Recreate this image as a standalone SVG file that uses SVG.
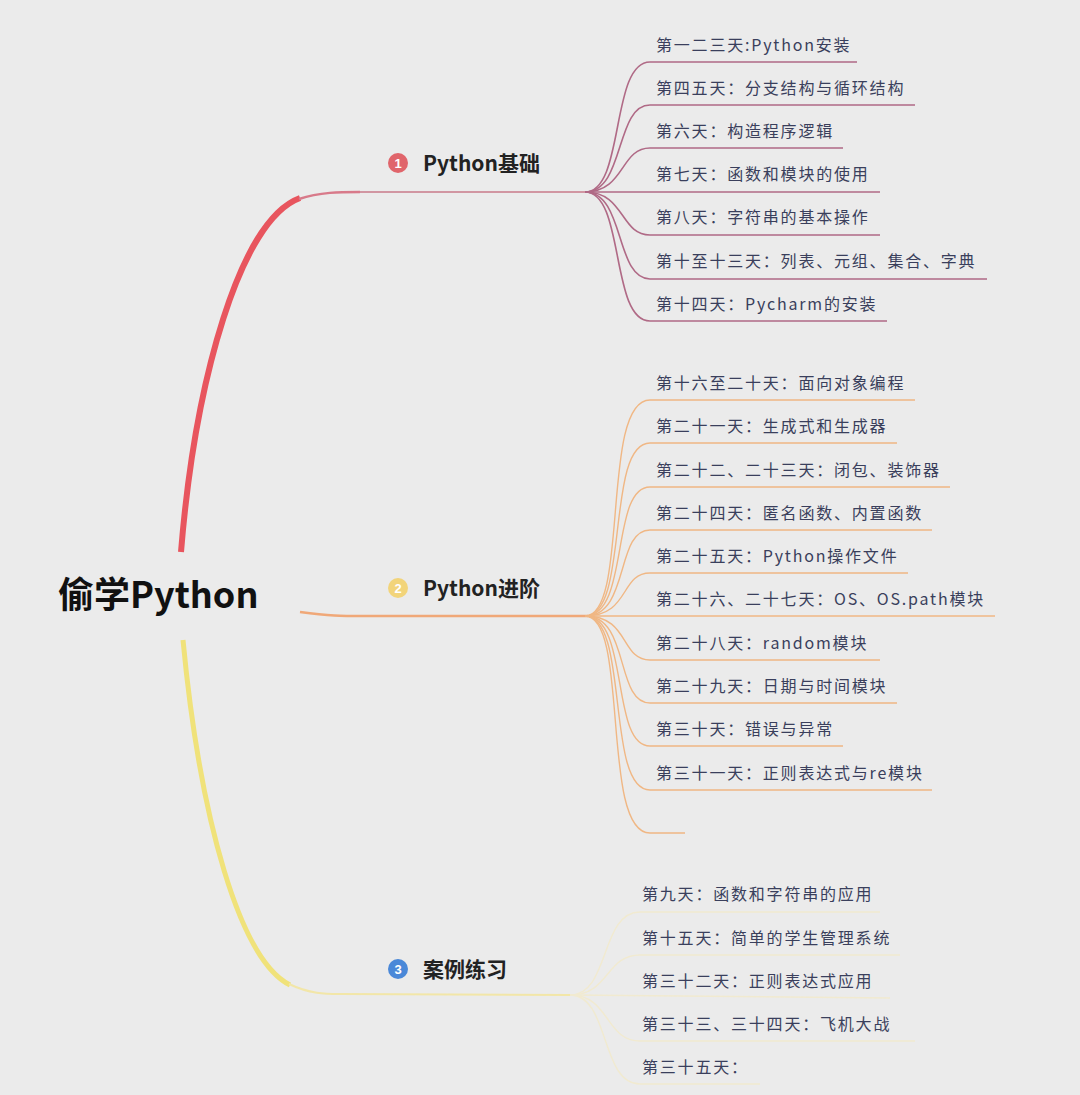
<svg xmlns="http://www.w3.org/2000/svg" width="1080" height="1095" viewBox="0 0 1080 1095">
<style>
.c{font-family:"Noto Sans CJK SC","Liberation Sans",sans-serif;font-size:16px;letter-spacing:1.8px;fill:#3a3f5c}
.b{font-family:"Noto Sans CJK SC","Liberation Sans",sans-serif;font-size:21px;font-weight:bold;fill:#222}
.n{font-family:"Liberation Sans",sans-serif;font-size:13px;font-weight:bold;fill:#fff;text-anchor:middle}
.r{fill:none;stroke:#b06a86;stroke-width:1.6}
.o{fill:none;stroke:#f0b784;stroke-width:1.4}
.y{fill:none;stroke:#f1ead0;stroke-width:1.4}
</style>
<rect width="1080" height="1095" fill="#ebebeb"/>
<g id="connectors">
<path d="M181,552 C195,380 240,220 300,198" fill="none" stroke="#e8555e" stroke-width="6"/>
<path d="M299,199 C320,192 340,192 360,192" fill="none" stroke="#d87a8a" stroke-width="2.5"/>
<path d="M360,192 L588,192" fill="none" stroke="#c87a8a" stroke-width="1.6"/>
<path d="M300,612 C330,616 340,616 365,616 L588,616" fill="none" stroke="#f0a878" stroke-width="2.5"/>
<path d="M183,640 C200,820 240,960 290,985" fill="none" stroke="#f0e27a" stroke-width="5"/>
<path d="M289,984 C310,994 325,994 340,994 L570,995" fill="none" stroke="#f2e6a8" stroke-width="2"/>
<path class="r" d="M585,192 C625,192 610,62 650,62 L857,62"/>
<path class="r" d="M585,192 C625,192 615,105 650,105 L915,105"/>
<path class="r" d="M585,192 C625,192 620,148 650,148 L843,148"/>
<path class="r" d="M585,192 L880,192"/>
<path class="r" d="M585,192 C625,192 620,235 650,235 L880,235"/>
<path class="r" d="M585,192 C625,192 615,279 650,279 L987,279"/>
<path class="r" d="M585,192 C625,192 610,321 650,321 L887,321"/>
<path class="o" d="M585,616 C630,616 600,400 650,400 L915,400"/>
<path class="o" d="M585,616 C630,616 605,443 650,443 L897,443"/>
<path class="o" d="M585,616 C630,616 610,487 650,487 L950,487"/>
<path class="o" d="M585,616 C630,616 615,530 650,530 L932,530"/>
<path class="o" d="M585,616 C630,616 620,573 650,573 L908,573"/>
<path class="o" d="M585,616 L995,616"/>
<path class="o" d="M585,616 C630,616 620,660 650,660 L880,660"/>
<path class="o" d="M585,616 C630,616 615,703 650,703 L897,703"/>
<path class="o" d="M585,616 C630,616 610,746 650,746 L843,746"/>
<path class="o" d="M585,616 C630,616 605,790 650,790 L932,790"/>
<path class="o" d="M585,616 C630,616 600,833 650,833 L685,833"/>
<path class="y" d="M570,995 C610,995 600,912 640,912 L880,912"/>
<path class="y" d="M570,995 C610,995 605,955 640,955 L900,955"/>
<path class="y" d="M570,995 L890,998"/>
<path class="y" d="M570,995 C610,995 605,1041 640,1041 L915,1041"/>
<path class="y" d="M570,995 C610,995 600,1084 640,1084 L760,1084"/>
</g>
<g id="root"><text x="58" y="608" font-family="Noto Sans CJK SC,Liberation Sans,sans-serif" font-size="36" font-weight="bold" fill="#111">偷学Python</text></g>
<g id="b1"><circle cx="398" cy="163" r="10" fill="#e0656b"/><text class="n" x="398" y="168">1</text><text class="b" x="423" y="171">Python基础</text></g>
<g id="b2"><circle cx="398" cy="588" r="10" fill="#f2d47a"/><text class="n" x="398" y="593">2</text><text class="b" x="423" y="596">Python进阶</text></g>
<g id="b3"><circle cx="398" cy="969" r="10" fill="#4a88d8"/><text class="n" x="398" y="974">3</text><text class="b" x="423" y="977">案例练习</text></g>
<g id="c1">
<text class="c" x="656" y="51">第一二三天:Python安装</text>
<text class="c" x="656" y="94">第四五天：分支结构与循环结构</text>
<text class="c" x="656" y="137">第六天：构造程序逻辑</text>
<text class="c" x="656" y="180">第七天：函数和模块的使用</text>
<text class="c" x="656" y="223">第八天：字符串的基本操作</text>
<text class="c" x="656" y="267">第十至十三天：列表、元组、集合、字典</text>
<text class="c" x="656" y="310">第十四天：Pycharm的安装</text>
</g>
<g id="c2">
<text class="c" x="656" y="389">第十六至二十天：面向对象编程</text>
<text class="c" x="656" y="432">第二十一天：生成式和生成器</text>
<text class="c" x="656" y="476">第二十二、二十三天：闭包、装饰器</text>
<text class="c" x="656" y="519">第二十四天：匿名函数、内置函数</text>
<text class="c" x="656" y="562">第二十五天：Python操作文件</text>
<text class="c" x="656" y="605">第二十六、二十七天：OS、OS.path模块</text>
<text class="c" x="656" y="649">第二十八天：random模块</text>
<text class="c" x="656" y="692">第二十九天：日期与时间模块</text>
<text class="c" x="656" y="735">第三十天：错误与异常</text>
<text class="c" x="656" y="779">第三十一天：正则表达式与re模块</text>
</g>
<g id="c3">
<text class="c" x="642" y="900">第九天：函数和字符串的应用</text>
<text class="c" x="642" y="944">第十五天：简单的学生管理系统</text>
<text class="c" x="642" y="987">第三十二天：正则表达式应用</text>
<text class="c" x="642" y="1030">第三十三、三十四天：飞机大战</text>
<text class="c" x="642" y="1073">第三十五天：</text>
</g>
</svg>
